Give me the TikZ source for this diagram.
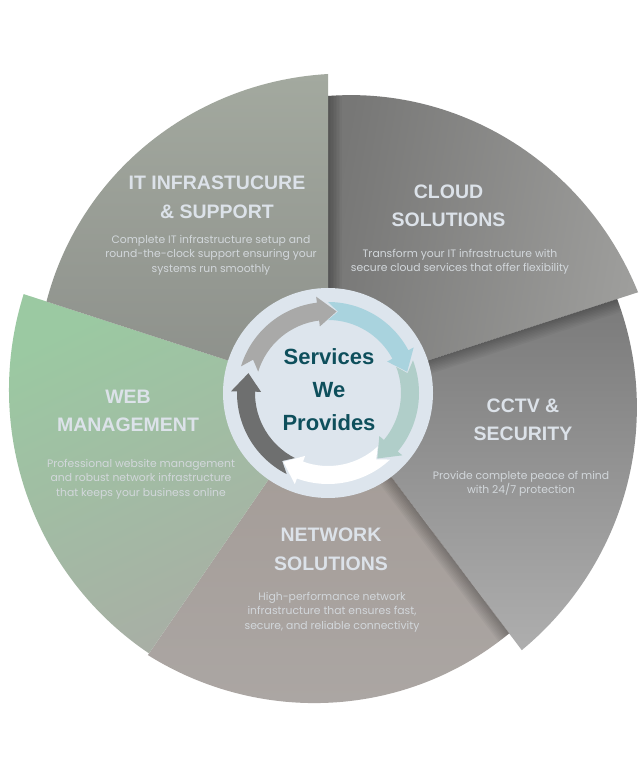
\documentclass[tikz,border=0pt]{standalone}
\usepackage{fontspec}
\setmainfont{Liberation Sans}
\newfontfamily\bodyfont{Poppins}
\definecolor{itA}{HTML}{A3A99F}
\definecolor{itB}{HTML}{8C8F8A}
\definecolor{clA}{HTML}{777776}
\definecolor{clB}{HTML}{9E9E9C}
\definecolor{ccA}{HTML}{7A7A7A}
\definecolor{ccB}{HTML}{AEAEAE}
\definecolor{nwA}{HTML}{A39A95}
\definecolor{nwB}{HTML}{ABA6A3}
\definecolor{wbA}{HTML}{9BC9A2}
\definecolor{wbB}{HTML}{A9ADA5}
\definecolor{ringc}{HTML}{DDE5ED}
\definecolor{headc}{HTML}{DCE2E9}
\definecolor{bodyc}{HTML}{D2D7DB}
\definecolor{titlec}{HTML}{0E4F5C}
\definecolor{arGrey}{HTML}{A9A9A8}
\definecolor{arBlue}{HTML}{A9D3DE}
\definecolor{arTeal}{HTML}{B0CEC9}
\definecolor{arWhite}{HTML}{FFFFFF}
\definecolor{arDark}{HTML}{6E6F6F}
% #1 start angle, #2 end angle, #3 start radius, #4 end radius, #5 path options
\newcommand\piece[5]{%
  \path[#5] (0,0) -- plot[domain=#1:#2,samples=60] (\x:{#3+(#4-#3)*(\x-(#1))/((#2)-(#1))}) -- cycle;}
\newcommand\edgeshadow[1]{%
  \foreach \w in {3,6,...,27} {\draw[black, opacity=0.03, line width=\w] (#1:100) -- (#1:340);}}
\newcommand\ringarrow[3]{%
  \fill[#3] (#1:91) arc[start angle=#1, end angle={#2+13}, radius=91]
    -- ({#2+13}:97) -- (#2:82) -- ({#2+13}:67) -- ({#2+13}:73)
    arc[start angle={#2+13}, end angle=#1, radius=73]
    -- ({#1-7}:82) -- cycle;}
\tikzset{
  head/.style={font=\bfseries\fontsize{19.5}{28.5}\selectfont, text=headc, align=center, inner sep=0pt},
  bodytext/.style={font=\bodyfont\fontsize{10.8}{14.5}\selectfont, text=bodyc, align=center, inner sep=0pt},
  titletext/.style={font=\bfseries\fontsize{22}{33}\selectfont, text=titlec, align=center, inner sep=0pt}
}
\begin{document}
\begin{tikzpicture}[x=1pt,y=1pt]
\useasboundingbox (0,0) rectangle (643,773);
\fill[white] (0,0) rectangle (643,773);
\coordinate (C) at (328,380);
\begin{scope}[shift={(328,380)}]
  % cloud
  \piece{90}{18}{297}{326}{shade, left color=clA, right color=clB, shading angle=80}
  \begin{scope}\piece{90}{18}{297}{326}{clip}\edgeshadow{90}\end{scope}
  % cctv
  \piece{18}{-53}{304}{322}{shade, top color=ccA, bottom color=ccB}
  \begin{scope}\piece{18}{-53}{304}{322}{clip}\edgeshadow{18}\end{scope}
  % network
  \piece{-53}{-124.5}{301}{318}{shade, top color=nwA, bottom color=nwB}
  \begin{scope}\piece{-53}{-124.5}{301}{318}{clip}\edgeshadow{-53}\end{scope}
  % web
  \piece{235.5}{162}{316}{320}{shade, top color=wbA, bottom color=wbB, shading angle=25}
  % it
  \piece{162}{90}{296}{319}{shade, top color=itA, bottom color=itB}
  % inner circle
  \fill[ringc] (0,0) circle[radius=105];
  \ringarrow{163}{84}{arGrey}
  \ringarrow{90}{15}{arBlue}
  \ringarrow{21}{-53}{arTeal}
  \ringarrow{-47}{-123}{arWhite}
  \ringarrow{-117}{-194}{arDark}
\end{scope}
\node[titletext] (title) at (329,383) {Services\\We\\Provides};
\node[head] (itH) at (217,575.5) {IT INFRASTUCURE\\\& SUPPORT};
\node[bodytext] (itT) at (211,518) {Complete IT infrastructure setup and\\round-the-clock support ensuring your\\systems run smoothly};
\node[head] (clH) at (448.5,567) {CLOUD\\SOLUTIONS};
\node[bodytext] (clT) at (460,511) {Transform your IT infrastructure with\\secure cloud services that offer flexibility};
\node[head] (ccH) at (523,353) {CCTV \&\\SECURITY};
\node[bodytext] (ccT) at (521,289) {Provide complete peace of mind\\with 24/7 protection};
\node[head] (wbH) at (128,362) {WEB\\MANAGEMENT};
\node[bodytext] (wbT) at (141,294) {Professional website management\\and robust network infrastructure\\that keeps your business online};
\node[head] (nwH) at (331,223.5) {NETWORK\\SOLUTIONS};
\node[bodytext] (nwT) at (332,161) {High-performance network\\infrastructure that ensures fast,\\secure, and reliable connectivity};
\end{tikzpicture}
\end{document}
